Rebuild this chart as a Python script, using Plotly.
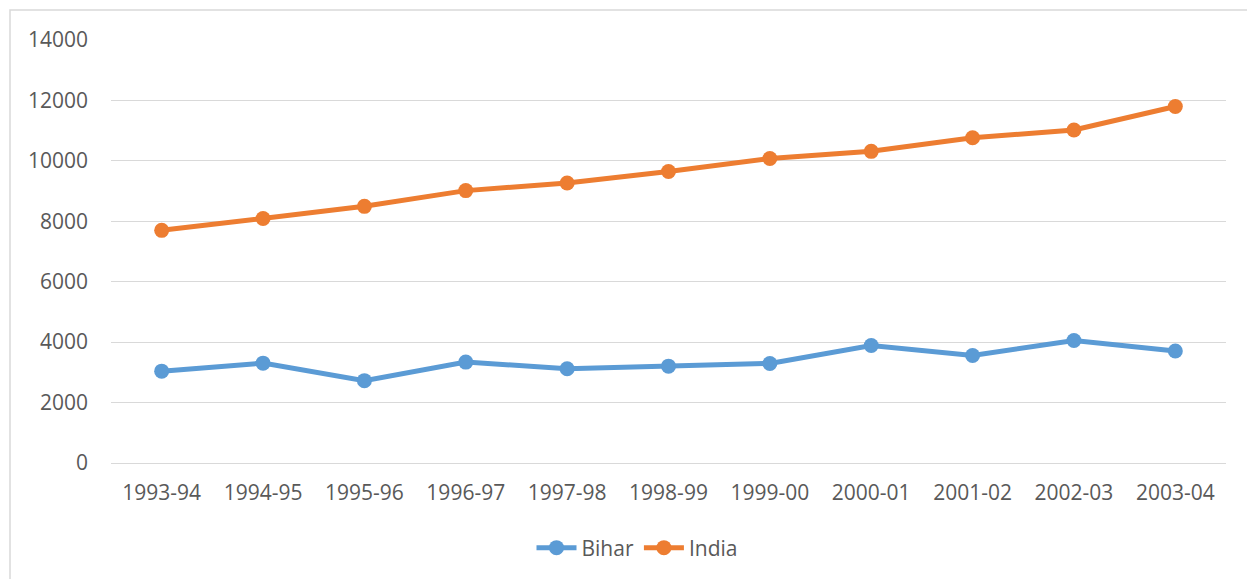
import plotly.graph_objects as go

years = ["1993-94", "1994-95", "1995-96", "1996-97", "1997-98", "1998-99",
         "1999-00", "2000-01", "2001-02", "2002-03", "2003-04"]
bihar = [3040, 3305, 2725, 3340, 3120, 3205, 3295, 3890, 3560, 4055, 3705]
india = [7700, 8090, 8495, 9015, 9265, 9650, 10080, 10315, 10765, 11020, 11800]
y_ticks = [0, 2000, 4000, 6000, 8000, 10000, 12000, 14000]
y_labels = [str(v) for v in y_ticks]

# page is offset by the default 8px body margin
OFF = 8
W, H = 1255 - OFF, 579 - OFF
L, R, T = 111 - OFF, 29, 40 - OFF
B = H - (464 - OFF)

font_family = "'Open Sans', sans-serif"
txt_col = "#595959"
fs = 21

fig = go.Figure()
fig.add_trace(go.Scatter(
    x=years, y=bihar, name="Bihar", mode="lines+markers",
    line=dict(color="#5B9BD5", width=5),
    marker=dict(color="#5B9BD5", size=15),
))
fig.add_trace(go.Scatter(
    x=years, y=india, name="India", mode="lines+markers",
    line=dict(color="#ED7D31", width=5),
    marker=dict(color="#ED7D31", size=15),
))

pw = W - L - R
ph = H - T - B
def px_x(p):
    return (p - OFF - L) / pw
def px_y(p):
    return (H - B - (p - OFF)) / ph

fig.add_shape(type="rect", xref="paper", yref="paper",
              x0=px_x(10), x1=px_x(1253), y0=px_y(595), y1=px_y(10),
              line=dict(color="#D9D9D9", width=1.5), fillcolor="rgba(0,0,0,0)",
              layer="below")

fig.update_layout(
    width=W, height=H,
    margin=dict(l=L, r=R, t=T, b=B),
    paper_bgcolor="white", plot_bgcolor="white",
    font=dict(family=font_family, size=fs, color=txt_col),
    showlegend=True,
    legend=dict(orientation="h", x=px_x(637), xanchor="center", y=px_y(548), yanchor="middle",
                font=dict(size=fs, color=txt_col), itemwidth=40,
                tracegroupgap=0),
    xaxis=dict(type="category", range=[-0.5, 10.5], showgrid=False,
               showline=False, zeroline=False, ticks="",
               ticklabelstandoff=15,
               tickfont=dict(size=fs, color=txt_col)),
    yaxis=dict(range=[0, 14000], tickvals=y_ticks, ticktext=y_labels, showgrid=True,
               gridcolor="#D9D9D9", gridwidth=1.2, zeroline=True,
               zerolinecolor="#D9D9D9", zerolinewidth=1.2, showline=False,
               ticks="", ticklabelstandoff=22,
               tickfont=dict(size=fs, color=txt_col)),
)

fig.write_html("out.html")
